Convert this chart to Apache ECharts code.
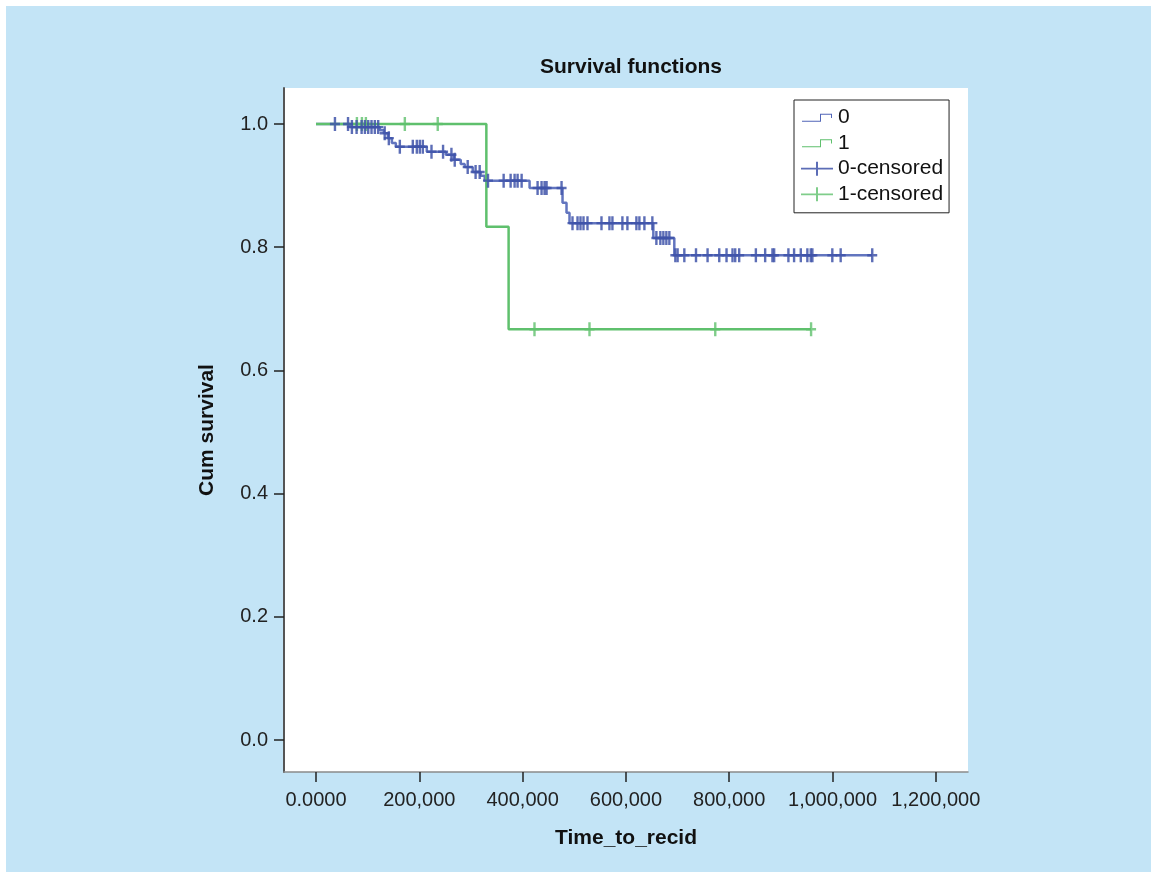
<!DOCTYPE html>
<html>
<head>
<meta charset="utf-8">
<script src="https://cdn.jsdelivr.net/npm/echarts@6/dist/echarts.min.js"></script>
<style>
  html, body { margin: 0; padding: 0; background: #fff; }
  #chart { width: 1157px; height: 878px; }
</style>
</head>
<body>
<div id="chart"></div>
<script>
// Kaplan-Meier steps, group 0 (time of step, survival after step)
const group0StepTimes = [0, 65700, 123700, 131400, 139100, 146900, 154600, 214500, 251200, 266700,
  280200, 287900, 303400, 318800, 326600, 413500, 477300, 485000, 490800, 653100, 693700, 1076900];
const group0StepSurv = [1.0, 0.995, 0.990, 0.985, 0.977, 0.969, 0.963, 0.955, 0.950, 0.942,
  0.935, 0.930, 0.922, 0.916, 0.908, 0.896, 0.872, 0.856, 0.839, 0.815, 0.787, 0.787];

// group 0 censored times
const group0Censored = [36700, 62000, 69500, 78600, 88300, 94700, 101100, 107500, 113900, 120400,
  133000, 141000, 162300, 187400, 195200, 201000, 206800, 223600, 246000, 262200, 268600, 293700,
  309000, 316900, 333000, 363300, 376800, 384500, 390300, 398100, 429000, 436700, 442500, 446400,
  475400, 496600, 506300, 512100, 517900, 525600, 552700, 568100, 573900, 593200, 602900, 620300,
  626100, 635800, 651200, 659000, 666700, 672500, 678300, 684100, 695700, 700100, 713100, 735700,
  758100, 780700, 794800, 806400, 811600, 819300, 851600, 869600, 883700, 887000, 914600, 925600,
  938600, 951300, 957900, 961000, 999600, 1015800, 1076900];

// group 1
const group1StepTimes = [0, 329800, 372900, 958500];
const group1StepSurv = [1.0, 0.8333, 0.6667, 0.6667];
const group1Censored = [79200, 88900, 96600, 172000, 235700, 423000, 529500, 773000, 958500];

const xTicks = [0, 200000, 400000, 600000, 800000, 1000000, 1200000];
const yTicks = [0, 0.2, 0.4, 0.6, 0.8, 1.0];

const FONT = "'Liberation Sans', Arial, sans-serif";
const BLUE_LINE = "#5166b8";
const BLUE_MARK = "#3f53a9";
const GREEN = "#5fc06d";

const PLUS = "path://M0,5.8L10,5.8L10,8.2L0,8.2Z M3.8,0L6.2,0L6.2,14L3.8,14Z";
// legend icons: tiny corner specks keep the bounding box at 32x14
const STEP_ICON = "path://M0,0L0.05,0L0,0.05Z M32,14L31.95,14L32,13.95Z " +
  "M1,10.2L19,10.2L19,3.2L31,3.2L31,7.5L30,7.5L30,4.2L20,4.2L20,11.2L1,11.2Z";
const CROSS_ICON = "path://M0,6.1L32,6.1L32,7.9L0,7.9Z M15,0L17,0L17,14L15,14Z";

function stepPairs(times, surv) {
  return times.map((t, i) => [t, surv[i]]);
}

// survival of the curve at time t (censor marks sit on the curve)
function survAt(times, surv, t) {
  let s = surv[0];
  for (let i = 0; i < times.length; i++) {
    if (times[i] <= t) s = surv[i];
  }
  return s;
}

function censorPairs(censored, times, surv) {
  return censored.map((t) => [t, survAt(times, surv, t)]);
}

const chart = echarts.init(document.getElementById("chart"), null, { renderer: "canvas" });

chart.setOption({
  animation: false,
  backgroundColor: "#fff",
  textStyle: { fontFamily: FONT },
  graphic: [
    {
      type: "rect",
      z: -100,
      silent: true,
      shape: { x: 6, y: 6, width: 1145, height: 866 },
      style: { fill: "#c3e4f6" }
    }
  ],
  title: {
    text: "Survival functions",
    left: 626,
    top: 52,
    textAlign: "center",
    textStyle: { fontFamily: FONT, fontSize: 21, fontWeight: "bold", color: "#111" }
  },
  legend: {
    orient: "vertical",
    left: 794,
    top: 100,
    padding: [7, 6, 8, 7],
    itemGap: 4.6,
    itemWidth: 32,
    itemHeight: 14,
    borderColor: "#222",
    borderWidth: 1,
    borderRadius: 0,
    backgroundColor: "#fff",
    textStyle: { fontFamily: FONT, fontSize: 21, lineHeight: 21, color: "#111" },
    data: [
      { name: "0", icon: STEP_ICON },
      { name: "1", icon: STEP_ICON },
      { name: "0-censored", icon: CROSS_ICON },
      { name: "1-censored", icon: CROSS_ICON }
    ]
  },
  grid: {
    left: 284,
    top: 88,
    width: 684,
    height: 684,
    show: true,
    backgroundColor: "#fff",
    borderWidth: 0
  },
  xAxis: {
    type: "value",
    min: -61955,
    max: 1262300,
    name: "Time_to_recid",
    nameLocation: "middle",
    nameGap: 56,
    nameTextStyle: { fontFamily: FONT, fontSize: 21, fontWeight: "bold", color: "#111" },
    axisLine: { onZero: false, lineStyle: { color: "#8a8a8a", width: 1.5 } },
    axisTick: { customValues: xTicks, length: 10, lineStyle: { color: "#222", width: 1.5 } },
    axisLabel: {
      customValues: xTicks,
      margin: 18,
      fontFamily: FONT,
      fontSize: 20,
      color: "#222",
      formatter: (v) => (v === 0 ? "0.0000" : v.toLocaleString("en-US"))
    },
    splitLine: { show: false }
  },
  yAxis: {
    type: "value",
    min: -0.05195,
    max: 1.05844,
    name: "Cum survival",
    nameLocation: "middle",
    nameRotate: 90,
    nameGap: 66,
    nameTextStyle: { fontFamily: FONT, fontSize: 21, fontWeight: "bold", color: "#111" },
    axisLine: { show: true, onZero: false, lineStyle: { color: "#555", width: 2 } },
    axisTick: { show: true, customValues: yTicks, length: 10, lineStyle: { color: "#222", width: 1.5 } },
    axisLabel: {
      customValues: yTicks,
      margin: 16,
      fontFamily: FONT,
      fontSize: 20,
      color: "#222",
      formatter: (v) => v.toFixed(1)
    },
    splitLine: { show: false }
  },
  series: [
    {
      name: "0",
      type: "line",
      step: "end",
      symbol: "none",
      color: BLUE_LINE,
      lineStyle: { width: 2.5, color: BLUE_LINE, opacity: 0.9 },
      data: stepPairs(group0StepTimes, group0StepSurv),
      z: 2
    },
    {
      name: "1",
      type: "line",
      step: "end",
      symbol: "none",
      color: GREEN,
      lineStyle: { width: 2.5, color: GREEN },
      data: stepPairs(group1StepTimes, group1StepSurv),
      z: 3
    },
    {
      name: "1-censored",
      type: "scatter",
      symbol: PLUS,
      symbolSize: [10, 14],
      color: GREEN,
      itemStyle: { color: GREEN },
      data: censorPairs(group1Censored, group1StepTimes, group1StepSurv),
      z: 4
    },
    {
      name: "0-censored",
      type: "scatter",
      symbol: PLUS,
      symbolSize: [10, 14],
      color: BLUE_MARK,
      itemStyle: { color: BLUE_MARK, opacity: 0.85 },
      data: censorPairs(group0Censored, group0StepTimes, group0StepSurv),
      z: 5
    }
  ]
});

window.addEventListener("resize", () => chart.resize());
</script>
</body>
</html>
